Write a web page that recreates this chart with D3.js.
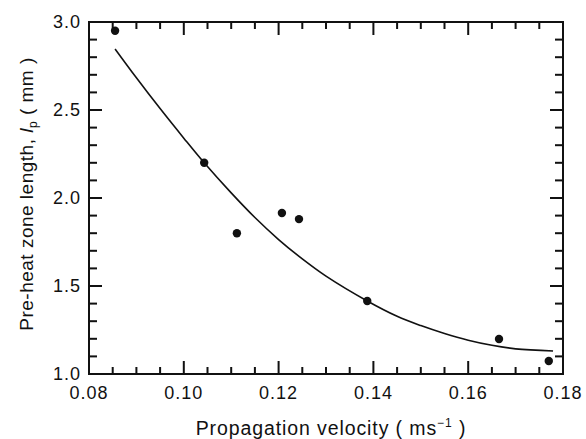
<!DOCTYPE html>
<html>
<head>
<meta charset="utf-8">
<script src="https://cdn.jsdelivr.net/npm/d3@7"></script>
<style>
  body { margin: 0; background: #fff; }
  text { font-family: "Liberation Sans", Arial, sans-serif; fill: #111; }
</style>
</head>
<body>
<div id="chart"></div>
<script>
// measured points
const velocity = [0.0855, 0.1043, 0.1112, 0.1207, 0.1243, 0.1387, 0.1665, 0.1770];
const zoneLength = [2.95, 2.20, 1.80, 1.915, 1.88, 1.415, 1.199, 1.074];

// fitted curve
const fitVelocity = [0.0855, 0.090, 0.095, 0.100, 0.1043, 0.110, 0.115, 0.120, 0.125, 0.130, 0.1387, 0.145, 0.150, 0.155, 0.160, 0.165, 0.170, 0.1779];
const fitLength = [2.847, 2.683, 2.508, 2.340, 2.200, 2.029, 1.889, 1.764, 1.654, 1.556, 1.415, 1.328, 1.275, 1.230, 1.192, 1.163, 1.143, 1.131];

const xTickLabels = [0.08, 0.10, 0.12, 0.14, 0.16, 0.18];
const yTickLabels = [1.0, 1.5, 2.0, 2.5, 3.0];
const xMinorTicks = d3.range(0, 21).map(i => +(0.08 + i * 0.005).toFixed(3));
const yMinorTicks = d3.range(0, 21).map(i => +(1.0 + i * 0.1).toFixed(1));

const W = 586, H = 439;
const margin = { top: 22, right: 23, bottom: 65, left: 89 };
const width = W - margin.left - margin.right;
const height = H - margin.top - margin.bottom;

const svg = d3.select("#chart").append("svg")
  .attr("width", W).attr("height", H);
const g = svg.append("g").attr("transform", `translate(${margin.left},${margin.top})`);

const x = d3.scaleLinear().domain([0.08, 0.18]).range([0, width]);
const y = d3.scaleLinear().domain([1.0, 3.0]).range([height, 0]);

// frame
g.append("path")
  .attr("d", `M0,0H${width}V${height}H0Z`)
  .attr("fill", "none").attr("stroke", "#111").attr("stroke-width", 2);

// inward ticks on all four sides, as thin filled rects
const isMajorX = v => xTickLabels.some(t => Math.abs(t - v) < 1e-6);
const isMajorY = v => yTickLabels.some(t => Math.abs(t - v) < 1e-6);
const tw = 2;
xMinorTicks.forEach(v => {
  const len = isMajorX(v) ? 13 : 7;
  g.append("rect").attr("x", x(v) - tw / 2).attr("y", height - len).attr("width", tw).attr("height", len).attr("fill", "#111");
  g.append("rect").attr("x", x(v) - tw / 2).attr("y", 0).attr("width", tw).attr("height", len).attr("fill", "#111");
});
yMinorTicks.forEach(v => {
  const len = isMajorY(v) ? 13 : 8;
  g.append("rect").attr("x", 0).attr("y", y(v) - tw / 2).attr("width", len).attr("height", tw).attr("fill", "#111");
  g.append("rect").attr("x", width - len).attr("y", y(v) - tw / 2).attr("width", len).attr("height", tw).attr("fill", "#111");
});

// tick labels
g.selectAll(".xl").data(xTickLabels).enter().append("text")
  .attr("x", d => x(d)).attr("y", height + 25)
  .attr("text-anchor", "middle").style("font-size", "18px").style("letter-spacing", "1px")
  .text(d => d3.format(".2f")(d));
g.selectAll(".yl").data(yTickLabels).enter().append("text")
  .attr("x", -8).attr("y", d => y(d) + 6)
  .attr("text-anchor", "end").style("font-size", "18px").style("letter-spacing", "1px")
  .text(d => d3.format(".1f")(d));

// axis titles
const xt = svg.append("text")
  .attr("x", margin.left + width / 2 + 5).attr("y", H - 4)
  .attr("text-anchor", "middle").style("font-size", "19.5px").style("letter-spacing", "0.9px");
xt.append("tspan").text("Propagation velocity ( ms");
xt.append("tspan").attr("dy", -8).style("font-size", "12px").text("\u22121");
xt.append("tspan").attr("dy", 8).text(" )");

const yt = svg.append("text")
  .attr("transform", `translate(33,${margin.top + height / 2 - 4}) rotate(-90)`)
  .attr("text-anchor", "middle").style("font-size", "19px").style("letter-spacing", "0.5px");
yt.append("tspan").text("Pre-heat zone length, ");
yt.append("tspan").style("font-style", "italic").text("l");
yt.append("tspan").attr("dy", 4).style("font-size", "12px").text("p");
yt.append("tspan").attr("dy", -4).text(" ( mm )");

// fitted curve
const line = d3.line().x(d => x(d[0])).y(d => y(d[1])).curve(d3.curveCatmullRom);
g.append("path").datum(d3.zip(fitVelocity, fitLength))
  .attr("d", line).attr("fill", "none").attr("stroke", "#111").attr("stroke-width", 1.6);

// data points
g.selectAll(".pt").data(d3.zip(velocity, zoneLength)).enter().append("circle")
  .attr("cx", d => x(d[0])).attr("cy", d => y(d[1])).attr("r", 4.2).attr("fill", "#111");
</script>
</body>
</html>
